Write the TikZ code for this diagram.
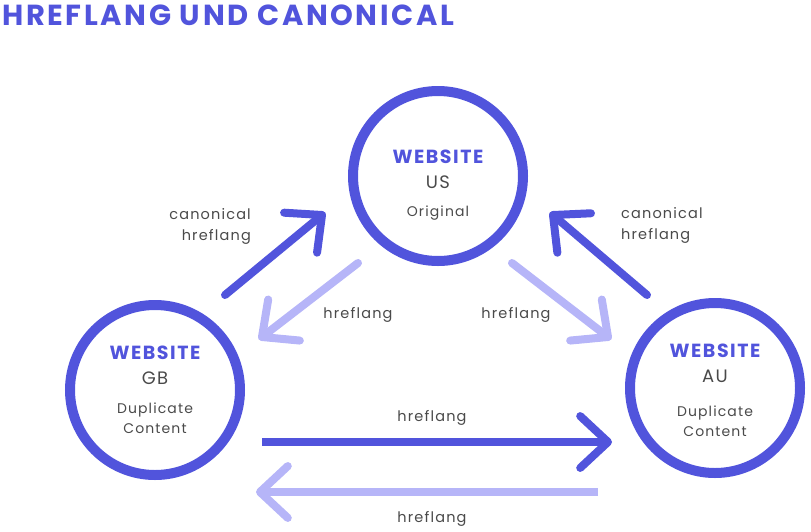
\documentclass[tikz,border=0pt]{standalone}
\usepackage{fontspec}
\setmainfont{Poppins}
\newfontfamily\spc[LetterSpace=8]{Poppins}
\newfontfamily\ttl[LetterSpace=9]{Poppins}
\usetikzlibrary{calc}
\definecolor{dk}{HTML}{5154DC}
\definecolor{lt}{HTML}{B6B5F8}
\definecolor{gr}{HTML}{4A4A4A}
\tikzset{
  ring/.style={circle, draw=dk, line width=10pt, minimum size=170pt, inner sep=0pt},
  darkshaft/.style={draw=dk, line width=8pt, line cap=round, line join=round},
  lightshaft/.style={draw=lt, line width=8pt, line cap=round, line join=round},
  lbl/.style={text=gr, font=\spc\fontsize{14.5}{21}\selectfont, inner sep=0pt},
  web/.style={text=dk, font=\spc\fontsize{19}{18}\selectfont\bfseries, inner sep=0pt},
  cc/.style={text=gr, font=\spc\fontsize{18}{20}\selectfont, inner sep=0pt},
  sub/.style={text=gr, font=\spc\fontsize{14}{20}\selectfont, align=center, inner sep=0pt},
}
\newcommand\chev[3]{% style, tip, start
  \draw[#1] ($(#2)!38pt!43:(#3)$) -- (#2) -- ($(#2)!38pt!-43:(#3)$);}
\begin{document}
\begin{tikzpicture}[x=1pt,y=-1pt]
\useasboundingbox (0,0) rectangle (811,531);
\node[anchor=west, text=dk, font=\ttl\fontsize{29}{30}\selectfont\bfseries, inner sep=0pt] (title) at (2,15) {HREFLANG UND CANONICAL};

\node[ring] (us) at (438,176) {};
\node[ring] (gb) at (155,390) {};
\node[ring] (au) at (715,388) {};

\node[web] (usw) at (438,157) {WEBSITE};
\node[cc] (usc) at (438,182) {US};
\node[sub] (uso) at (438,213) {Original};

\node[web] (gbw) at (155,353) {WEBSITE};
\node[cc] (gbc) at (155,378) {GB};
\node[sub] (gbo) at (155,418) {Duplicate\\Content};

\node[web] (auw) at (715,351) {WEBSITE};
\node[cc] (auc) at (715,376) {AU};
\node[sub] (auo) at (715,421) {Duplicate\\Content};

% arrow GB -> US
\coordinate (a1s) at (225,295); \coordinate (a1e) at (322,215);
\draw[darkshaft] (a1s) -- (a1e); \chev{darkshaft}{a1e}{a1s}
% arrow US -> GB
\coordinate (a2s) at (358,263); \coordinate (a2e) at (262,337);
\draw[lightshaft] (a2s) -- (a2e); \chev{lightshaft}{a2e}{a2s}
% arrow US -> AU
\coordinate (a3s) at (512,263); \coordinate (a3e) at (608,337);
\draw[lightshaft] (a3s) -- (a3e); \chev{lightshaft}{a3e}{a3s}
% arrow AU -> US
\coordinate (a4s) at (647,295); \coordinate (a4e) at (553,215);
\draw[darkshaft] (a4s) -- (a4e); \chev{darkshaft}{a4e}{a4s}
% arrow GB -> AU
\coordinate (a5s) at (262,442); \coordinate (a5e) at (608,442);
\draw[darkshaft, line cap=butt] (a5s) -- (a5e); \chev{darkshaft}{a5e}{a5s}
% arrow AU -> GB
\coordinate (a6s) at (598,492); \coordinate (a6e) at (260,492);
\draw[lightshaft, line cap=butt] (a6s) -- (a6e); \chev{lightshaft}{a6e}{a6s}

\node[lbl, align=right, anchor=east] (l1) at (251,226) {canonical\\hreflang};
\node[lbl, align=left, anchor=west] (l4) at (621,225) {canonical\\hreflang};
\node[lbl] (l2) at (358,315) {hreflang};
\node[lbl] (l3) at (516,315) {hreflang};
\node[lbl] (l5) at (432,418) {hreflang};
\node[lbl] (l6) at (432,519) {hreflang};
\end{tikzpicture}
\end{document}
